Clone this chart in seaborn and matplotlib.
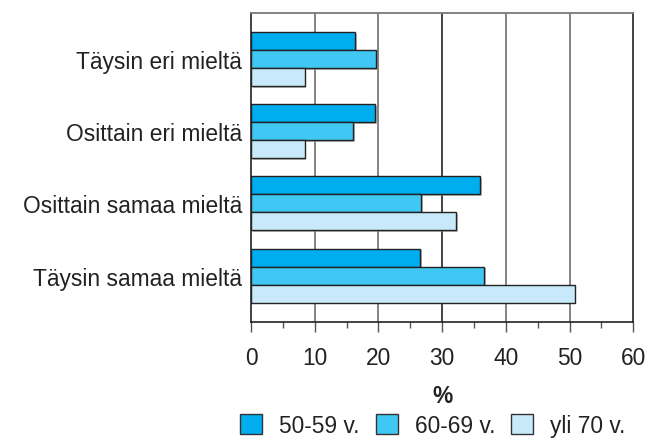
import matplotlib
matplotlib.use("Agg")
import matplotlib.pyplot as plt
import matplotlib.patheffects as pe
from matplotlib.patches import Patch
from matplotlib.ticker import MultipleLocator
import seaborn as sns
import pandas as pd

categories = ["Täysin eri mieltä", "Osittain eri mieltä", "Osittain samaa mieltä", "Täysin samaa mieltä"]
groups = ["50-59 v.", "60-69 v.", "yli 70 v."]
v_50_59 = [16.4, 19.5, 36.0, 26.5]
v_60_69 = [19.6, 16.0, 26.7, 36.6]
v_70 = [8.4, 8.4, 32.2, 50.8]
xticks = [0, 10, 20, 30, 40, 50, 60]
xlabel = "%"

colors = ["#00aeef", "#40c7f3", "#c7e9f9"]
FS = 16.4

rows = []
for g, vals in zip(groups, [v_50_59, v_60_69, v_70]):
    for c, v in zip(categories, vals):
        rows.append({"cat": c, "grp": g, "val": v})
df = pd.DataFrame(rows)

sns.set_theme(style="white")
plt.rcParams["font.family"] = ["Liberation Sans", "DejaVu Sans"]

fig = plt.figure(figsize=(6.55, 4.39), dpi=100)
ax = fig.add_axes([0.3832, 0.2635, 0.5837, 0.7046])

sns.barplot(data=df, y="cat", x="val", hue="grp", order=categories, hue_order=groups,
            palette=colors, orient="h", width=0.75, gap=0, ax=ax, legend=False,
            edgecolor="#222222", linewidth=1.0, saturation=1)

for p in ax.patches:
    p.set_path_effects([pe.SimplePatchShadow(offset=(1.2, -1.2), shadow_rgbFace="#888888", alpha=0.6), pe.Normal()])

ax.set_xlim(0, 60)
ax.set_ylim(3.65, -0.645)
ax.set_xticks(xticks)
ax.set_xticklabels([str(t) for t in xticks], fontsize=FS, color="#222222")
ax.xaxis.set_minor_locator(MultipleLocator(5))
ax.tick_params(axis="x", which="major", direction="out", length=7.5, width=1.0, color="#555555", pad=9.5, bottom=True)
ax.tick_params(axis="x", which="minor", direction="out", length=4, width=1.0, color="#555555", bottom=True)
ax.tick_params(axis="y", length=0, pad=6.5)
for lab in ax.get_yticklabels():
    lab.set_fontsize(FS)
    lab.set_color("#222222")
ax.set_ylabel("")
ax.set_xlabel(xlabel, fontsize=FS, fontweight="bold", color="#222222")
ax.xaxis.label.set_va("center")
ax.xaxis.set_label_coords(0.5, -0.238)

for t in [10, 20, 40, 50]:
    ax.axvline(t, color="#7a7a7a", lw=1.3, zorder=0)
ax.axvline(30, color="#222222", lw=1.2, zorder=0)

for s in ["left", "right", "bottom"]:
    ax.spines[s].set_color("#222222")
    ax.spines[s].set_linewidth(1.2)
ax.spines["top"].set_color("#7a7a7a")
ax.spines["top"].set_linewidth(1.3)

handles = [Patch(facecolor=c, edgecolor="#333333", linewidth=1.0) for c in colors]
leg = fig.legend(handles, groups, loc="center", bbox_to_anchor=(0.661, 0.0296), ncol=3,
                 frameon=False, fontsize=FS, handlelength=0.97, handleheight=0.97,
                 columnspacing=0.7, handletextpad=0.75, borderpad=0, borderaxespad=0)
for t in leg.get_texts():
    t.set_color("#222222")

fig.savefig("out.png", dpi=100)
